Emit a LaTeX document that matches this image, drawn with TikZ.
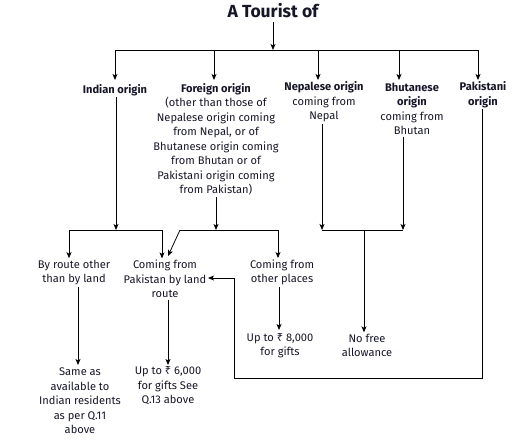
\documentclass[tikz,border=0pt]{standalone}
\usepackage{fontspec}
\setmainfont{Fira Sans}
\newfontfamily\symfont{Noto Sans}
\newcommand{\rupee}{{\symfont ₹}}
\usetikzlibrary{arrows.meta}
\definecolor{txt}{RGB}{22,22,40}
\begin{document}
\begin{tikzpicture}[x=1pt,y=-1pt,
  lbl/.style={align=center,inner sep=1.5pt,text=txt,font=\fontsize{11.1}{14.5}\selectfont},
  bl/.style={lbl,font=\fontsize{11.1}{14.5}\selectfont\bfseries},
  ln/.style={line width=0.8pt,black},
  arr/.style={ln,-{Stealth[length=6pt,width=5pt,inset=1.5pt]}}]
\useasboundingbox (0,0) rectangle (528,446);
% nodes
\node[text=txt,font=\fontsize{17.5}{19}\selectfont\bfseries] (title) at (273,11) {A Tourist of};
\node[bl] (ind) at (115,90) {Indian origin};
\node[lbl] (for) at (216,139.5) {\textbf{Foreign origin}\\(other than those of\\Nepalese origin coming\\from Nepal, or of\\Bhutanese origin coming\\from Bhutan or of\\Pakistani origin coming\\from Pakistan)};
\node[lbl] (nep) at (324,102) {\textbf{Nepalese origin}\\coming from\\Nepal};
\node[lbl] (bhu) at (412,109) {\textbf{Bhutanese}\\\textbf{origin}\\coming from\\Bhutan};
\node[bl] (pak) at (483,94.5) {Pakistani\\origin};
\node[lbl] (byr) at (74,272.5) {By route other\\than by land};
\node[lbl] (pkl) at (165,279) {Coming from\\Pakistan by land\\route};
\node[lbl] (oth) at (282,272.5) {Coming from\\other places};
\node[lbl] (up8) at (280,345.5) {Up to \rupee\ 8,000\\for gifts};
\node[lbl] (nof) at (367,345.5) {No free\\allowance};
\node[lbl] (same) at (80,401) {Same as\\available to\\Indian residents\\as per Q.11\\above};
\node[lbl] (up6) at (168,386) {Up to \rupee\ 6,000\\for gifts See\\Q.13 above};
% junction coordinates
\coordinate (h1) at (273,50);
\coordinate (hL) at (115,50);
\coordinate (hR) at (478,50);
\coordinate (jI) at (116,230);
\coordinate (jIL) at (69,230);
\coordinate (jIR) at (162,230);
\coordinate (jF) at (216,230);
\coordinate (jFL) at (180,230);
\coordinate (jFR) at (278,230);
\coordinate (jN) at (322,230);
\coordinate (jB) at (403,230);
\coordinate (jNB) at (364,230);
\coordinate (pk1) at (482,378);
\coordinate (pk2) at (234,378);
\coordinate (pk3) at (234,278);
% top level
\draw[arr] (title.south) -- (h1);
\draw[ln] (hL) -- (hR);
\draw[arr] (hL) -- (hL |- 0,80);
\draw[arr] (214,50) -- (214,80);
\draw[arr] (318,50) -- (318,80);
\draw[arr] (399,50) -- (399,80);
\draw[arr] (hR) -- (hR |- 0,80);
% second level
\draw[arr] (ind.south -| jI) -- (jI);
\draw[ln] (jIL) -- (jIR);
\draw[arr] (jIL) -- (jIL |- byr.north);
\draw[arr] (jIR) -- (jIR |- pkl.north);
\draw[arr] (for.south -| jF) -- (jF);
\draw[ln] (jFL) -- (jFR);
\draw[arr] (jFL) -- (168,256);
\draw[arr] (jFR) -- (jFR |- oth.north);
\draw[arr] (nep.south -| jN) -- (jN);
\draw[arr] (bhu.south -| jB) -- (jB);
\draw[ln] (jN) -- (jB);
\draw[arr] (jNB) -- (jNB |- nof.north);
\draw[arr] (pak.south -| pk1) -- (pk1) -- (pk2) -- (pk3) -- (pk3 -| pkl.east);
% third level
\draw[arr] (byr.south -| 78,0) -- (78,365);
\draw[arr] (pkl.south -| 168,0) -- (168,365);
\draw[arr] (oth.south -| 279,0) -- (279,330);
\end{tikzpicture}
\end{document}
